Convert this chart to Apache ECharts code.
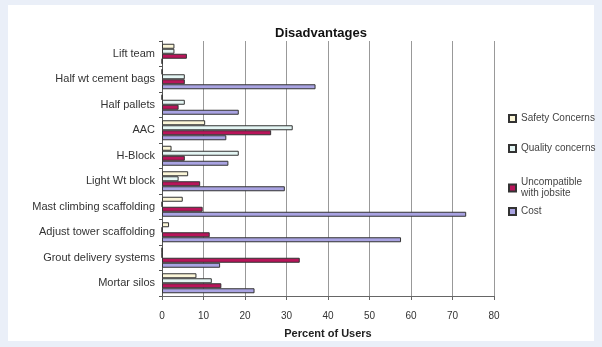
<!DOCTYPE html>
<html><head><meta charset="utf-8">
<script src="https://cdn.jsdelivr.net/npm/echarts@6/dist/echarts.min.js"></script>
<style>html,body{margin:0;padding:0;background:#EAEFF8;}#c{width:602px;height:347px;}</style>
</head><body><div id="c"></div>
<script>
const categories = ["Lift team","Half wt cement bags","Half pallets","AAC","H-Block","Light Wt block","Mast climbing scaffolding","Adjust tower scaffolding","Grout delivery systems","Mortar silos"];
const safety =       [3, 0, 0, 10.4, 2.3, 6.3, 5, 1.7, 0, 8.3];
const quality =      [3, 5.5, 5.5, 31.5, 18.5, 4, 0, 0, 0, 12];
const uncompatible = [6, 5.5, 4, 26.3, 5.5, 9.2, 9.8, 11.5, 33.2, 14.3];
const cost =         [0, 37, 18.5, 15.5, 16, 29.6, 73.3, 57.6, 14, 22.3];
const seriesNames = ['Safety Concerns','Quality concerns','Uncompatible with jobsite','Cost'];
const xTicks = [0,10,20,30,40,50,60,70,80];

const chart = echarts.init(document.getElementById('c'), null, {renderer:'canvas'});
const mk = (name, data, color) => ({
  name, type:'bar', data, barWidth:5, barGap:'0%',
  itemStyle:{color, borderColor:'#333', borderWidth:1},
  emphasis:{disabled:true}
});
const legendTops = [108, 138, 172, 201];
const legends = seriesNames.map((n, i) => ({
  orient:'vertical', left:503, top:legendTops[i], itemWidth:7, itemHeight:7,
  icon:'rect', selectedMode:false,
  textStyle:{fontSize:10, color:'#444', lineHeight:11},
  formatter: s => s === 'Uncompatible with jobsite' ? 'Uncompatible\nwith jobsite' : s,
  data:[n]
}));
chart.setOption({
  animation:false,
  backgroundColor:'#EAEFF8',
  textStyle:{fontFamily:'Liberation Sans, Arial, sans-serif'},
  graphic:[{type:'rect', z:-10, shape:{x:8,y:5,width:586,height:336}, style:{fill:'#fff'}}],
  title:{text:'Disadvantages', left:316, top:22, textAlign:'center',
    textStyle:{fontSize:13, fontWeight:'bold', color:'#111'}},
  legend: legends,
  grid:{left:162, right:108, top:41, bottom:51},
  xAxis:{
    type:'value', min:0, max:80, interval:10,
    name:'Percent of Users', nameLocation:'middle', nameGap:32,
    nameTextStyle:{fontSize:11, fontWeight:'bold', color:'#222'},
    axisLine:{show:true, lineStyle:{color:'#666'}},
    axisTick:{show:true, length:4, lineStyle:{color:'#666'}},
    axisLabel:{fontSize:10, color:'#333', margin:15, formatter:v => xTicks.includes(v) ? String(v) : ''},
    splitLine:{show:true, lineStyle:{color:'#999', width:1}}
  },
  yAxis:{
    type:'category', data:categories, inverse:true,
    axisLine:{show:true, lineStyle:{color:'#555'}},
    axisTick:{show:true, length:3, lineStyle:{color:'#555'}},
    axisLabel:{fontSize:11, color:'#333', margin:7}
  },
  series:[
    mk(seriesNames[0], safety, '#FBF6D8'),
    mk(seriesNames[1], quality, '#E4F6F4'),
    mk(seriesNames[2], uncompatible, '#B8155A'),
    mk(seriesNames[3], cost, '#A9A3E2')
  ]
});
</script></body></html>
